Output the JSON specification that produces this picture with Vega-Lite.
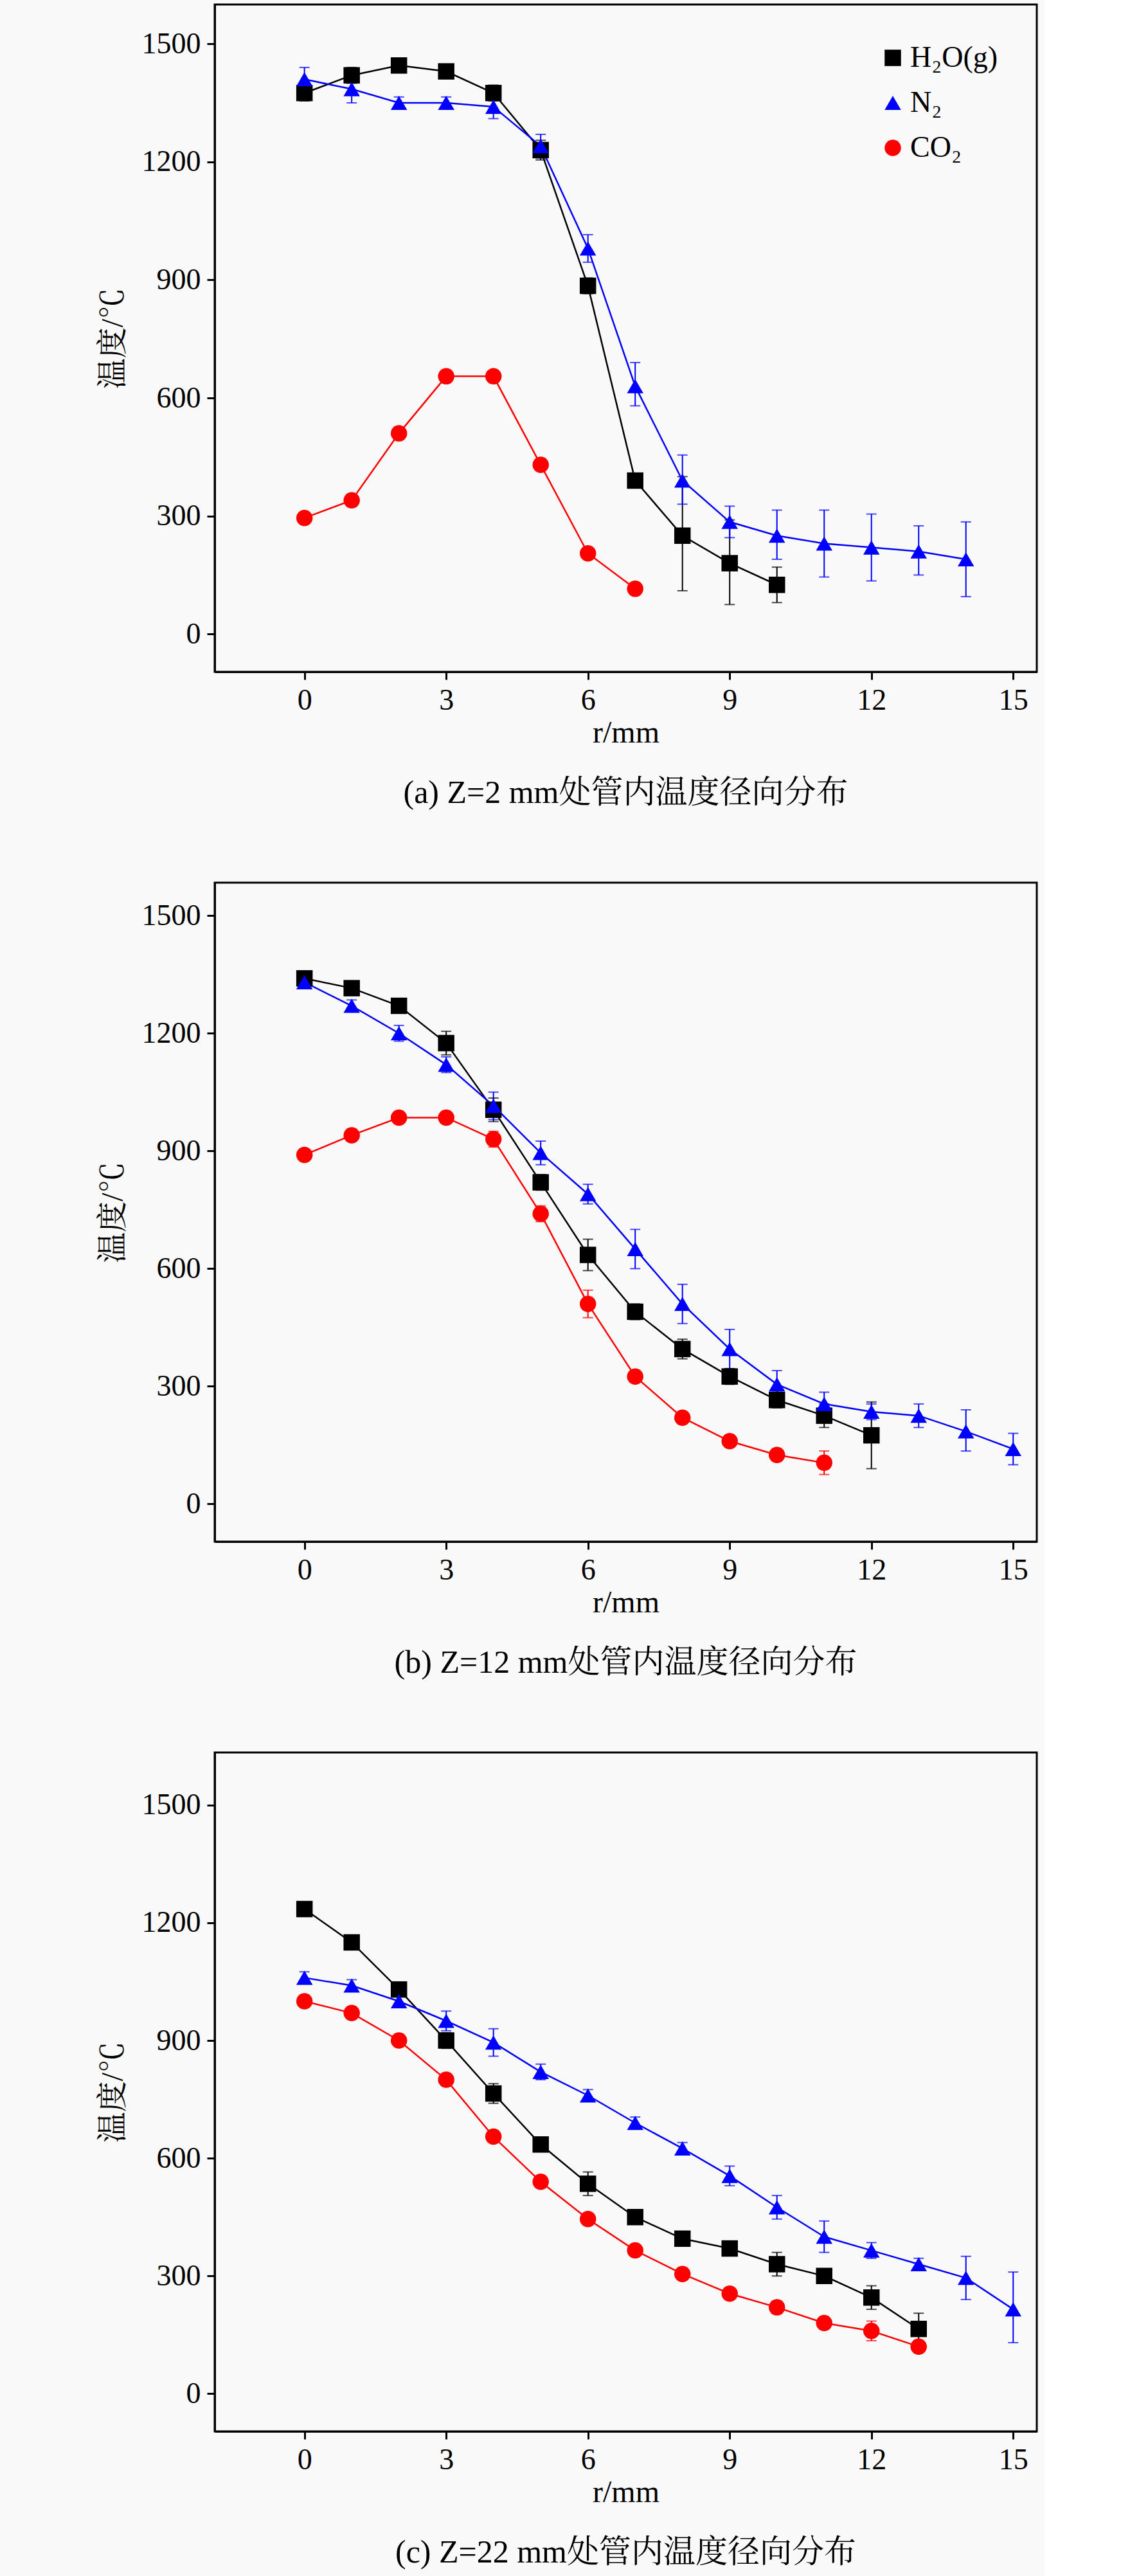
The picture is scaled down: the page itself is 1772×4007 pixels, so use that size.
{
"$schema":"https://vega.github.io/schema/vega-lite/v6.json",
"background":"#f9f9f9",
"padding":{"left":150,"top":5,"right":10,"bottom":10},
"config":{"font":"Liberation Serif, Noto Serif CJK SC, Noto Sans CJK SC","concat":{"spacing":110},
"view":{"stroke":"black","strokeWidth":3},
"axis":{"grid":false,"domainColor":"black","domainWidth":3,"tickColor":"black","tickWidth":3,"tickSize":12,"labelFontSize":46,"titleFontSize":48,"labelColor":"black","titleColor":"black","titleFontWeight":"normal","labelPadding":10,"format":"d"},
"legend":{"labelFontSize":46,"symbolSize":650,"symbolStrokeWidth":0,"rowPadding":24,"labelColor":"black","symbolOpacity":1},
"title":{"fontSize":50,"fontWeight":"normal","color":"black"}},
"data":{"values":[
{"p":"a","s":"H₂O(g)","r":0,"t":1375,"lo":1355,"hi":1395},
{"p":"a","s":"H₂O(g)","r":1,"t":1420,"lo":1400,"hi":1440},
{"p":"a","s":"H₂O(g)","r":2,"t":1445,"lo":1430,"hi":1460},
{"p":"a","s":"H₂O(g)","r":3,"t":1430,"lo":1415,"hi":1445},
{"p":"a","s":"H₂O(g)","r":4,"t":1375,"lo":1355,"hi":1395},
{"p":"a","s":"H₂O(g)","r":5,"t":1230,"lo":1205,"hi":1255},
{"p":"a","s":"H₂O(g)","r":6,"t":885,"lo":865,"hi":905},
{"p":"a","s":"H₂O(g)","r":7,"t":390,"lo":375,"hi":405},
{"p":"a","s":"H₂O(g)","r":8,"t":250,"lo":110,"hi":400},
{"p":"a","s":"H₂O(g)","r":9,"t":180,"lo":75,"hi":290},
{"p":"a","s":"H₂O(g)","r":10,"t":125,"lo":80,"hi":170},
{"p":"a","s":"N₂","r":0,"t":1410,"lo":1380,"hi":1440},
{"p":"a","s":"N₂","r":1,"t":1385,"lo":1350,"hi":1420},
{"p":"a","s":"N₂","r":2,"t":1350,"lo":1335,"hi":1365},
{"p":"a","s":"N₂","r":3,"t":1350,"lo":1335,"hi":1365},
{"p":"a","s":"N₂","r":4,"t":1340,"lo":1310,"hi":1370},
{"p":"a","s":"N₂","r":5,"t":1240,"lo":1210,"hi":1270},
{"p":"a","s":"N₂","r":6,"t":980,"lo":945,"hi":1015},
{"p":"a","s":"N₂","r":7,"t":630,"lo":580,"hi":690},
{"p":"a","s":"N₂","r":8,"t":390,"lo":330,"hi":455},
{"p":"a","s":"N₂","r":9,"t":285,"lo":245,"hi":325},
{"p":"a","s":"N₂","r":10,"t":250,"lo":190,"hi":315},
{"p":"a","s":"N₂","r":11,"t":230,"lo":145,"hi":315},
{"p":"a","s":"N₂","r":12,"t":220,"lo":135,"hi":305},
{"p":"a","s":"N₂","r":13,"t":210,"lo":150,"hi":275},
{"p":"a","s":"N₂","r":14,"t":190,"lo":95,"hi":285},
{"p":"a","s":"CO₂","r":0,"t":295,"lo":295,"hi":295},
{"p":"a","s":"CO₂","r":1,"t":340,"lo":340,"hi":340},
{"p":"a","s":"CO₂","r":2,"t":510,"lo":510,"hi":510},
{"p":"a","s":"CO₂","r":3,"t":655,"lo":655,"hi":655},
{"p":"a","s":"CO₂","r":4,"t":655,"lo":655,"hi":655},
{"p":"a","s":"CO₂","r":5,"t":430,"lo":430,"hi":430},
{"p":"a","s":"CO₂","r":6,"t":205,"lo":205,"hi":205},
{"p":"a","s":"CO₂","r":7,"t":115,"lo":115,"hi":115},
{"p":"b","s":"H₂O(g)","r":0,"t":1340,"lo":1325,"hi":1355},
{"p":"b","s":"H₂O(g)","r":1,"t":1315,"lo":1300,"hi":1330},
{"p":"b","s":"H₂O(g)","r":2,"t":1270,"lo":1255,"hi":1285},
{"p":"b","s":"H₂O(g)","r":3,"t":1175,"lo":1145,"hi":1205},
{"p":"b","s":"H₂O(g)","r":4,"t":1005,"lo":975,"hi":1035},
{"p":"b","s":"H₂O(g)","r":5,"t":820,"lo":800,"hi":840},
{"p":"b","s":"H₂O(g)","r":6,"t":635,"lo":595,"hi":675},
{"p":"b","s":"H₂O(g)","r":7,"t":490,"lo":470,"hi":510},
{"p":"b","s":"H₂O(g)","r":8,"t":395,"lo":370,"hi":420},
{"p":"b","s":"H₂O(g)","r":9,"t":325,"lo":305,"hi":345},
{"p":"b","s":"H₂O(g)","r":10,"t":265,"lo":245,"hi":285},
{"p":"b","s":"H₂O(g)","r":11,"t":225,"lo":195,"hi":255},
{"p":"b","s":"H₂O(g)","r":12,"t":175,"lo":90,"hi":260},
{"p":"b","s":"N₂","r":0,"t":1330,"lo":1315,"hi":1345},
{"p":"b","s":"N₂","r":1,"t":1270,"lo":1255,"hi":1285},
{"p":"b","s":"N₂","r":2,"t":1200,"lo":1180,"hi":1220},
{"p":"b","s":"N₂","r":3,"t":1120,"lo":1100,"hi":1140},
{"p":"b","s":"N₂","r":4,"t":1015,"lo":980,"hi":1050},
{"p":"b","s":"N₂","r":5,"t":895,"lo":865,"hi":925},
{"p":"b","s":"N₂","r":6,"t":790,"lo":765,"hi":815},
{"p":"b","s":"N₂","r":7,"t":650,"lo":600,"hi":700},
{"p":"b","s":"N₂","r":8,"t":510,"lo":460,"hi":560},
{"p":"b","s":"N₂","r":9,"t":395,"lo":345,"hi":445},
{"p":"b","s":"N₂","r":10,"t":305,"lo":270,"hi":340},
{"p":"b","s":"N₂","r":11,"t":255,"lo":225,"hi":285},
{"p":"b","s":"N₂","r":12,"t":235,"lo":215,"hi":255},
{"p":"b","s":"N₂","r":13,"t":225,"lo":195,"hi":255},
{"p":"b","s":"N₂","r":14,"t":185,"lo":135,"hi":240},
{"p":"b","s":"N₂","r":15,"t":140,"lo":100,"hi":180},
{"p":"b","s":"CO₂","r":0,"t":890,"lo":890,"hi":890},
{"p":"b","s":"CO₂","r":1,"t":940,"lo":940,"hi":940},
{"p":"b","s":"CO₂","r":2,"t":985,"lo":985,"hi":985},
{"p":"b","s":"CO₂","r":3,"t":985,"lo":985,"hi":985},
{"p":"b","s":"CO₂","r":4,"t":930,"lo":910,"hi":950},
{"p":"b","s":"CO₂","r":5,"t":740,"lo":720,"hi":760},
{"p":"b","s":"CO₂","r":6,"t":510,"lo":475,"hi":545},
{"p":"b","s":"CO₂","r":7,"t":325,"lo":325,"hi":325},
{"p":"b","s":"CO₂","r":8,"t":220,"lo":220,"hi":220},
{"p":"b","s":"CO₂","r":9,"t":160,"lo":160,"hi":160},
{"p":"b","s":"CO₂","r":10,"t":125,"lo":125,"hi":125},
{"p":"b","s":"CO₂","r":11,"t":105,"lo":75,"hi":135},
{"p":"c","s":"H₂O(g)","r":0,"t":1235,"lo":1220,"hi":1250},
{"p":"c","s":"H₂O(g)","r":1,"t":1150,"lo":1135,"hi":1165},
{"p":"c","s":"H₂O(g)","r":2,"t":1030,"lo":1015,"hi":1045},
{"p":"c","s":"H₂O(g)","r":3,"t":900,"lo":880,"hi":920},
{"p":"c","s":"H₂O(g)","r":4,"t":765,"lo":740,"hi":790},
{"p":"c","s":"H₂O(g)","r":5,"t":635,"lo":620,"hi":650},
{"p":"c","s":"H₂O(g)","r":6,"t":535,"lo":505,"hi":565},
{"p":"c","s":"H₂O(g)","r":7,"t":450,"lo":435,"hi":465},
{"p":"c","s":"H₂O(g)","r":8,"t":395,"lo":380,"hi":410},
{"p":"c","s":"H₂O(g)","r":9,"t":370,"lo":355,"hi":385},
{"p":"c","s":"H₂O(g)","r":10,"t":330,"lo":300,"hi":360},
{"p":"c","s":"H₂O(g)","r":11,"t":300,"lo":285,"hi":315},
{"p":"c","s":"H₂O(g)","r":12,"t":245,"lo":215,"hi":275},
{"p":"c","s":"H₂O(g)","r":13,"t":165,"lo":125,"hi":205},
{"p":"c","s":"N₂","r":0,"t":1060,"lo":1045,"hi":1075},
{"p":"c","s":"N₂","r":1,"t":1040,"lo":1025,"hi":1055},
{"p":"c","s":"N₂","r":2,"t":1000,"lo":985,"hi":1015},
{"p":"c","s":"N₂","r":3,"t":950,"lo":925,"hi":975},
{"p":"c","s":"N₂","r":4,"t":895,"lo":860,"hi":930},
{"p":"c","s":"N₂","r":5,"t":820,"lo":800,"hi":840},
{"p":"c","s":"N₂","r":6,"t":760,"lo":745,"hi":775},
{"p":"c","s":"N₂","r":7,"t":690,"lo":675,"hi":705},
{"p":"c","s":"N₂","r":8,"t":625,"lo":610,"hi":640},
{"p":"c","s":"N₂","r":9,"t":555,"lo":530,"hi":580},
{"p":"c","s":"N₂","r":10,"t":475,"lo":445,"hi":505},
{"p":"c","s":"N₂","r":11,"t":400,"lo":360,"hi":440},
{"p":"c","s":"N₂","r":12,"t":365,"lo":345,"hi":385},
{"p":"c","s":"N₂","r":13,"t":330,"lo":315,"hi":345},
{"p":"c","s":"N₂","r":14,"t":295,"lo":240,"hi":350},
{"p":"c","s":"N₂","r":15,"t":215,"lo":130,"hi":310},
{"p":"c","s":"CO₂","r":0,"t":1000,"lo":1000,"hi":1000},
{"p":"c","s":"CO₂","r":1,"t":970,"lo":970,"hi":970},
{"p":"c","s":"CO₂","r":2,"t":900,"lo":900,"hi":900},
{"p":"c","s":"CO₂","r":3,"t":800,"lo":800,"hi":800},
{"p":"c","s":"CO₂","r":4,"t":655,"lo":655,"hi":655},
{"p":"c","s":"CO₂","r":5,"t":540,"lo":540,"hi":540},
{"p":"c","s":"CO₂","r":6,"t":445,"lo":445,"hi":445},
{"p":"c","s":"CO₂","r":7,"t":365,"lo":365,"hi":365},
{"p":"c","s":"CO₂","r":8,"t":305,"lo":305,"hi":305},
{"p":"c","s":"CO₂","r":9,"t":255,"lo":255,"hi":255},
{"p":"c","s":"CO₂","r":10,"t":220,"lo":220,"hi":220},
{"p":"c","s":"CO₂","r":11,"t":180,"lo":180,"hi":180},
{"p":"c","s":"CO₂","r":12,"t":160,"lo":135,"hi":185},
{"p":"c","s":"CO₂","r":13,"t":120,"lo":105,"hi":135}
]},
"vconcat":[
{"width":1279,"height":1038,"title":{"text":"(a) Z=2 mm处管内温度径向分布","orient":"bottom","offset":45},
"transform":[{"filter":"datum.p=='a'"}],
"encoding":{"x":{"field":"r","type":"quantitative","scale":{"domain":[-1.9,15.5],"nice":false},"axis":{"values":[0,3,6,9,12,15],"title":"r/mm"}},
"color":{"field":"s","type":"nominal","scale":{"domain":["H₂O(g)","N₂","CO₂"],"range":["black","#0000ff","#ff0000"]},"legend":{"title":null,"orient":"top-right","offset":60}}},
"layer":[
{"mark":{"type":"rule","strokeWidth":2},"encoding":{"y":{"field":"lo","type":"quantitative"},"y2":{"field":"hi"}}},
{"mark":{"type":"tick","orient":"horizontal","size":16,"thickness":2},"encoding":{"y":{"field":"lo","type":"quantitative"}}},
{"mark":{"type":"tick","orient":"horizontal","size":16,"thickness":2},"encoding":{"y":{"field":"hi","type":"quantitative"}}},
{"mark":{"type":"line","strokeWidth":2.5},"encoding":{"y":{"field":"t","type":"quantitative","scale":{"domain":[-96,1600],"nice":false},"axis":{"values":[0,300,600,900,1200,1500],"title":"温度/℃","titlePadding":20}}}},
{"mark":{"type":"point","filled":true,"opacity":1,"size":650},"encoding":{"y":{"field":"t","type":"quantitative"},
"shape":{"field":"s","type":"nominal","scale":{"domain":["H₂O(g)","N₂","CO₂"],"range":["square","triangle-up","circle"]},
"legend":{"title":null,"orient":"top-right","offset":60}}}}
]},
{"width":1279,"height":1025,"title":{"text":"(b) Z=12 mm处管内温度径向分布","orient":"bottom","offset":45},
"transform":[{"filter":"datum.p=='b'"}],
"encoding":{"x":{"field":"r","type":"quantitative","scale":{"domain":[-1.9,15.5],"nice":false},"axis":{"values":[0,3,6,9,12,15],"title":"r/mm"}},
"color":{"field":"s","type":"nominal","scale":{"domain":["H₂O(g)","N₂","CO₂"],"range":["black","#0000ff","#ff0000"]},"legend":{"title":null,"orient":"top-right","offset":60}}},
"layer":[
{"mark":{"type":"rule","strokeWidth":2},"encoding":{"y":{"field":"lo","type":"quantitative"},"y2":{"field":"hi"}}},
{"mark":{"type":"tick","orient":"horizontal","size":16,"thickness":2},"encoding":{"y":{"field":"lo","type":"quantitative"}}},
{"mark":{"type":"tick","orient":"horizontal","size":16,"thickness":2},"encoding":{"y":{"field":"hi","type":"quantitative"}}},
{"mark":{"type":"line","strokeWidth":2.5},"encoding":{"y":{"field":"t","type":"quantitative","scale":{"domain":[-96,1584],"nice":false},"axis":{"values":[0,300,600,900,1200,1500],"title":"温度/℃","titlePadding":20}}}},
{"mark":{"type":"point","filled":true,"opacity":1,"size":650},"encoding":{"y":{"field":"t","type":"quantitative"},
"shape":{"field":"s","type":"nominal","scale":{"domain":["H₂O(g)","N₂","CO₂"],"range":["square","triangle-up","circle"]},
"legend":{"title":null,"orient":"top-right","offset":60}}}}
]},
{"width":1279,"height":1056,"title":{"text":"(c) Z=22 mm处管内温度径向分布","orient":"bottom","offset":45},
"transform":[{"filter":"datum.p=='c'"}],
"encoding":{"x":{"field":"r","type":"quantitative","scale":{"domain":[-1.9,15.5],"nice":false},"axis":{"values":[0,3,6,9,12,15],"title":"r/mm"}},
"color":{"field":"s","type":"nominal","scale":{"domain":["H₂O(g)","N₂","CO₂"],"range":["black","#0000ff","#ff0000"]},"legend":{"title":null,"orient":"top-right","offset":60}}},
"layer":[
{"mark":{"type":"rule","strokeWidth":2},"encoding":{"y":{"field":"lo","type":"quantitative"},"y2":{"field":"hi"}}},
{"mark":{"type":"tick","orient":"horizontal","size":16,"thickness":2},"encoding":{"y":{"field":"lo","type":"quantitative"}}},
{"mark":{"type":"tick","orient":"horizontal","size":16,"thickness":2},"encoding":{"y":{"field":"hi","type":"quantitative"}}},
{"mark":{"type":"line","strokeWidth":2.5},"encoding":{"y":{"field":"t","type":"quantitative","scale":{"domain":[-96,1634],"nice":false},"axis":{"values":[0,300,600,900,1200,1500],"title":"温度/℃","titlePadding":20}}}},
{"mark":{"type":"point","filled":true,"opacity":1,"size":650},"encoding":{"y":{"field":"t","type":"quantitative"},
"shape":{"field":"s","type":"nominal","scale":{"domain":["H₂O(g)","N₂","CO₂"],"range":["square","triangle-up","circle"]},
"legend":{"title":null,"orient":"top-right","offset":60}}}}
]}
]}
